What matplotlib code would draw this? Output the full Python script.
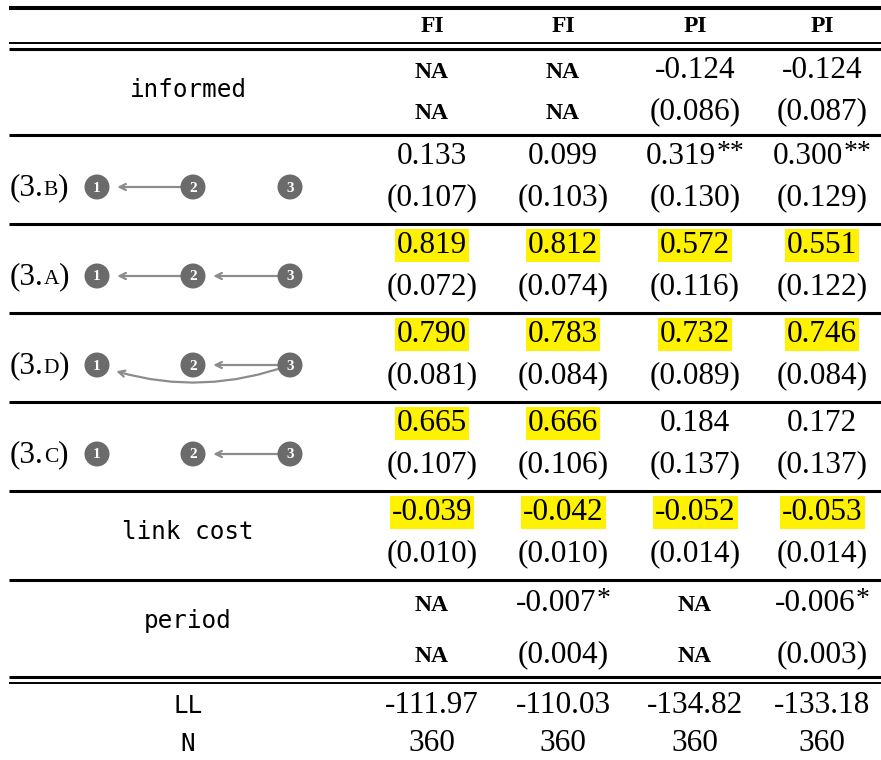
import matplotlib.pyplot as plt
from matplotlib.patches import Circle

# === Table content ===
headers = ['FI', 'FI', 'PI', 'PI']
row_names = ['informed', '3.B', '3.A', '3.D', '3.C', 'link cost', 'period']
coefs = [
    [None, None, -0.124, -0.124],
    [0.133, 0.099, 0.319, 0.300],
    [0.819, 0.812, 0.572, 0.551],
    [0.790, 0.783, 0.732, 0.746],
    [0.665, 0.666, 0.184, 0.172],
    [-0.039, -0.042, -0.052, -0.053],
    [None, -0.007, None, -0.006],
]
std_errs = [
    [None, None, 0.086, 0.087],
    [0.107, 0.103, 0.130, 0.129],
    [0.072, 0.074, 0.116, 0.122],
    [0.081, 0.084, 0.089, 0.084],
    [0.107, 0.106, 0.137, 0.137],
    [0.010, 0.010, 0.014, 0.014],
    [None, 0.004, None, 0.003],
]
stars = [
    ['', '', '', ''],
    ['', '', '**', '**'],
    ['', '', '', ''],
    ['', '', '', ''],
    ['', '', '', ''],
    ['', '', '', ''],
    ['', '*', '', '*'],
]
highlight = [
    [False, False, False, False],
    [False, False, False, False],
    [True, True, True, True],
    [True, True, True, True],
    [True, True, False, False],
    [True, True, True, True],
    [False, False, False, False],
]
loglik = [-111.97, -110.03, -134.82, -133.18]
n_obs = [360, 360, 360, 360]
# links (from -> to) drawn in each network pattern
networks = {
    '3.B': [(2, 1)],
    '3.A': [(2, 1), (3, 2)],
    '3.D': [(3, 2), (3, 1)],
    '3.C': [(3, 2)],
}

# === Layout (pixels) ===
W, H = 881, 760
col_x = [432, 563, 695, 822]
label_x = 188
section_top = [49, 135, 224, 313, 402, 491, 580]
node_x = {1: 97, 2: 193, 3: 290}
serif = 'Liberation Serif'
mono = 'DejaVu Sans Mono'
num_size = 22.5
sc_size = 17
yellow = '#FFF200'

fig = plt.figure(figsize=(W / 100, H / 100), dpi=100)
ax = fig.add_axes([0, 0, 1, 1])
ax.set_xlim(0, W)
ax.set_ylim(H, 0)
ax.axis('off')
renderer = fig.canvas.get_renderer()


def width(t):
    return t.get_window_extent(renderer).width


def rule(y, lw):
    ax.plot([9, W], [y, y], color='black', lw=lw, solid_capstyle='butt')


def put_value(x, yb, s, star='', mark=False):
    if s == 'NA':
        ax.text(x, yb, 'NA', family=serif, fontsize=sc_size, weight='bold',
                ha='center', va='baseline')
        return
    t = ax.text(x, yb, s, family=serif, fontsize=num_size, ha='center', va='baseline')
    if mark:
        t.set_bbox(dict(boxstyle='square,pad=0.07', fc=yellow, ec='none'))
    if star:
        wm = width(t)
        st = ax.text(0, yb - 5, star, family=serif, fontsize=20,
                     ha='left', va='baseline')
        ws = width(st)
        left = x - (wm + ws) / 2
        t.set_x(left + wm / 2)
        st.set_x(left + wm)


def fmt(v, nd=3):
    return 'NA' if v is None else f'{v:.{nd}f}'


# rules
rule(8, 2.9)
rule(43, 1.4)
rule(49, 2.2)
for y in section_top[1:]:
    rule(y, 2.2)
rule(677, 2.2)
rule(683, 1.4)

# header
for x, h in zip(col_x, headers):
    ax.text(x, 32, h, family=serif, fontsize=sc_size, weight='bold',
            ha='center', va='baseline')

# coefficient blocks
for i, name in enumerate(row_names):
    top = section_top[i]
    off_c, off_s = (31, 82) if name == 'period' else (29, 70)
    for j in range(4):
        put_value(col_x[j], top + off_c, fmt(coefs[i][j]), stars[i][j], highlight[i][j])
        se = std_errs[i][j]
        put_value(col_x[j], top + off_s, 'NA' if se is None else f'({se:.3f})')

    if name in networks:
        yb = top + 60
        t1 = ax.text(10, yb, '(3.', family=serif, fontsize=num_size, ha='left', va='baseline')
        x1 = 10 + width(t1)
        t2 = ax.text(x1, yb, name[-1], family=serif, fontsize=15.5, ha='left', va='baseline')
        x2 = x1 + width(t2)
        ax.text(x2, yb, ')', family=serif, fontsize=num_size, ha='left', va='baseline')

        ny = top + 52
        for a, b in networks[name]:
            curved = abs(a - b) == 2
            ax.annotate('', xy=(node_x[b], ny), xytext=(node_x[a], ny),
                        arrowprops=dict(arrowstyle='->,head_length=0.45,head_width=0.22',
                                        color='#8c8c8c', lw=1.6, shrinkA=0, shrinkB=14.5,
                                        connectionstyle='arc3,rad=-0.18' if curved else 'arc3'),
                        zorder=2)
        for k, nx in node_x.items():
            ax.add_patch(Circle((nx, ny), 12.5, fc='#6b6b6b', ec='none', zorder=3))
            ax.text(nx, ny + 1, str(k), family=serif, fontsize=11, weight='bold',
                    color='white', ha='center', va='center', zorder=4)
    else:
        ax.text(label_x, top + 48, name, family=mono, fontsize=17.5,
                ha='center', va='baseline')

# footer
ax.text(label_x, 713, 'LL', family=mono, fontsize=17.5, ha='center', va='baseline')
ax.text(label_x, 751, 'N', family=mono, fontsize=17.5, ha='center', va='baseline')
for j in range(4):
    put_value(col_x[j], 713, fmt(loglik[j], 2))
    put_value(col_x[j], 751, str(n_obs[j]))

fig.savefig('out.png', dpi=100)
